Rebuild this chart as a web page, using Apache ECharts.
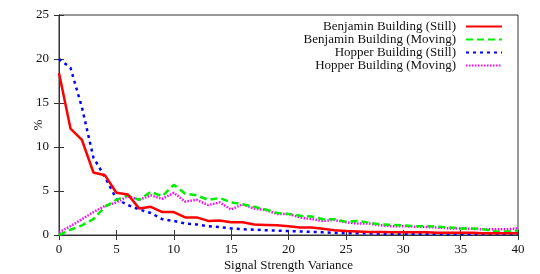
<!DOCTYPE html>
<html><head><meta charset="utf-8">
<script src="https://cdn.jsdelivr.net/npm/echarts@6/dist/echarts.min.js"></script>
<style>html,body{margin:0;padding:0;background:#fff}#c{width:540px;height:274px}</style>
</head><body><div id="c"></div>
<script>
const xValues = [0,1,2,3,4,5,6,7,8,9,10,11,12,13,14,15,16,17,18,19,20,21,22,23,24,25,26,27,28,29,30,31,32,33,34,35,36,37,38,39,40];
const benjaminStill = [18.4,12.1,10.8,7.1,6.8,4.8,4.6,3.0,3.2,2.6,2.6,2.0,2.0,1.6,1.65,1.45,1.45,1.2,1.15,1.1,1.0,0.85,0.85,0.7,0.55,0.45,0.4,0.35,0.35,0.3,0.3,0.3,0.3,0.25,0.25,0.25,0.25,0.2,0.2,0.2,0.2];
const benjaminMoving = [0.0,0.6,1.1,1.8,3.2,4.0,4.5,4.0,4.9,4.4,5.7,4.7,4.5,4.0,4.2,3.7,3.5,3.2,2.9,2.5,2.4,2.2,2.1,1.8,1.8,1.5,1.6,1.4,1.2,1.15,1.1,1.0,1.0,0.95,0.85,0.75,0.75,0.65,0.4,0.4,0.5];
const hopperStill = [20.0,19.0,14.5,8.8,6.6,4.1,3.4,2.9,2.5,1.8,1.6,1.3,1.2,1.0,0.9,0.75,0.65,0.6,0.55,0.5,0.45,0.4,0.35,0.3,0.25,0.2,0.2,0.2,0.15,0.15,0.15,0.15,0.1,0.1,0.1,0.1,0.1,0.1,0.1,0.1,0.1];
const hopperMoving = [0.3,1.0,1.8,2.6,3.3,3.7,4.4,4.0,4.5,4.1,4.8,3.8,4.0,3.4,3.7,2.9,3.5,3.0,2.85,2.4,2.4,2.0,1.8,1.6,1.7,1.45,1.3,1.3,1.1,1.0,1.0,0.95,0.9,0.85,0.75,0.75,0.7,0.65,0.65,0.65,0.75];
const seriesNames = ['Benjamin Building (Still)','Benjamin Building (Moving)','Hopper Building (Still)','Hopper Building (Moving)'];
const xTicks = [0,5,10,15,20,25,30,35,40];
const yTicks = [0,5,10,15,20,25];

const FONT = 'Liberation Serif';
const pair = arr => xValues.map((x,i)=>[x,arr[i]]);
const styles = [
  {color:'#ff0000', type:'solid'},
  {color:'#00ee00', type:[7,4]},
  {color:'#0000ff', type:[3,4]},
  {color:'#ff00ff', type:[1.5,1.5]}
];
const datasets = [benjaminStill, benjaminMoving, hopperStill, hopperMoving];
const axisLine = {show:true, lineStyle:{color:'#333', width:1}};
const tick = {show:true, inside:true, length:5, lineStyle:{color:'#333'}};
const chart = echarts.init(document.getElementById('c'), null, {renderer:'canvas'});
const mainSeries = datasets.map((d,i)=>({
  name:seriesNames[i], type:'line', data:pair(d), symbol:'circle', symbolSize:0, showSymbol:false,
  xAxisIndex:0, yAxisIndex:0,
  itemStyle:{color:styles[i].color},
  lineStyle:{color:styles[i].color, width:2.5, type:styles[i].type, cap:'butt'},
  z: 4-i
}));
mainSeries.push({type:'line', data:[], xAxisIndex:1, yAxisIndex:1, silent:true});
chart.setOption({
  animation:false,
  backgroundColor:'#fff',
  textStyle:{fontFamily:FONT},
  grid:{left:59, right:22, top:15, bottom:39, containLabel:false, outerBoundsMode:'none',
        show:true, borderColor:'#333', borderWidth:1},
  legend: seriesNames.map((n,i)=>({
    data:[n], right:37, top:20+13*i, orient:'vertical', align:'right', padding:0,
    itemWidth:36, itemHeight:14, itemGap:0,
    itemStyle:{opacity:0, borderWidth:0},
    textStyle:{fontFamily:FONT, fontSize:13, color:'#111', padding:[0,5,0,0]}
  })),
  xAxis:[{
    type:'value', min:0, max:40, interval:5,
    name:'Signal Strength Variance', nameLocation:'middle', nameGap:24, nameMoveOverlap:false,
    nameTextStyle:{fontFamily:FONT, fontSize:13, color:'#111'},
    axisLine, axisTick:tick,
    axisLabel:{fontFamily:FONT, fontSize:13, color:'#111', margin:8},
    splitLine:{show:false}
  },{
    type:'value', position:'top', min:0, max:40, interval:5,
    axisLine, axisTick:tick,
    axisLabel:{show:false}, splitLine:{show:false}
  }],
  yAxis:[{
    type:'value', min:0, max:25, interval:5,
    name:'%', nameLocation:'middle', nameGap:14, nameRotate:90, nameMoveOverlap:false,
    nameTextStyle:{fontFamily:FONT, fontSize:13, color:'#111'},
    axisLine, axisTick:tick,
    axisLabel:{fontFamily:FONT, fontSize:13, color:'#111', margin:10},
    splitLine:{show:false}
  },{
    type:'value', position:'right', min:0, max:25, interval:5,
    axisLine, axisTick:tick,
    axisLabel:{show:false}, splitLine:{show:false}
  }],
  series: mainSeries
});
</script></body></html>
